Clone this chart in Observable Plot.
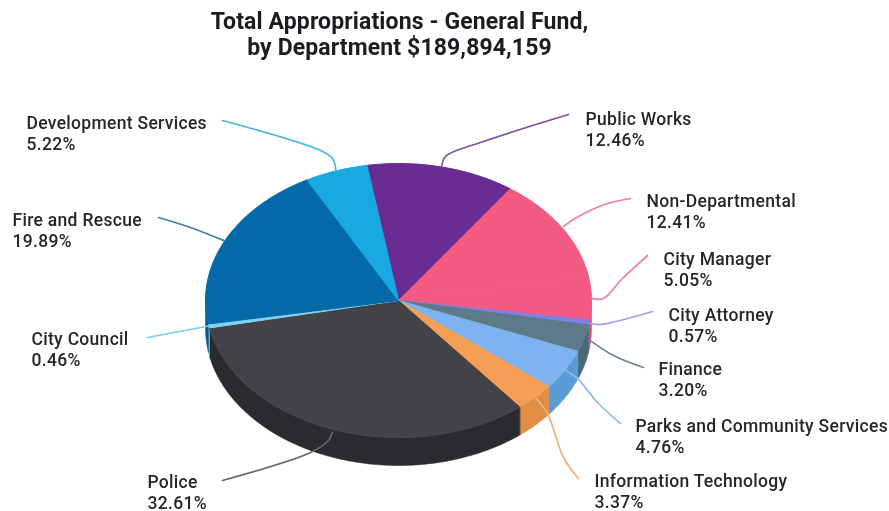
<!DOCTYPE html>
<html>
<head>
<meta charset="utf-8">
<script src="https://cdn.jsdelivr.net/npm/d3@7"></script>
<script src="https://cdn.jsdelivr.net/npm/@observablehq/plot@0.6"></script>
<style>
  html, body { margin: 0; padding: 0; background: #fff; }
  #title { height: 64px; box-sizing: border-box; padding-top: 9px; width: 799px; text-align: center;
           font: 700 23px/26px Roboto, sans-serif; letter-spacing: 0.12px; color: #1c1c22; }
  svg { display: block; }
  svg text { letter-spacing: 0.3px; }
  #page { width: 889px; height: 511px; overflow: hidden; filter: blur(0.35px); }
</style>
</head>
<body>
<div id="page">
<div id="title">Total Appropriations - General Fund,<br>by Department $189,894,159</div>
<div id="chart"></div>
</div>
<script>
// ---- data, clockwise from the top of the pie ----
const departments = ["Public Works", "Non-Departmental", "City Manager", "City Attorney", "Finance",
  "Parks and Community Services", "Information Technology", "Police", "City Council", "Fire and Rescue", "Development Services"];
const shares = [12.46, 12.41, 5.05, 0.57, 3.20, 4.76, 3.37, 32.61, 0.46, 19.89, 5.22];

// ---- styles ----
const topColors = ["#692a91", "#f45b83", "#f45b83", "#7f7fe6", "#5c7a87", "#7db4ef", "#f49f55", "#434247", "#7fd3f2", "#0469a9", "#19a9e1"];
const sideColors = ["#692a91", "#f45b83", "#d94a70", "#6a6ac8", "#4a6a78", "#5b9bd6", "#e08f42", "#2b2a2f", "#6cc4e4", "#04588e", "#19a9e1"];
const leaderColors = ["#7c4fa3", "#f0809f", "#f0809f", "#a39cf0", "#70868f", "#93bbec", "#f1b17c", "#66666a", "#72d0f0", "#3f80aa", "#4cb5dc"];

// ---- layout ----
const cx = 398, cy = 300, rx = 193, ry = 137, depth = 28;
const startDeg = -9.5;
const labelAt = [[585,118],[646,200],[663,258],[668,314],[658,368],[635,425],[594,480],[147,481],[31,338],[12,219],[26,122]];
// bends and end of each leader, after its start on the slice
const leaderBends = [
  [[445,156],[480,142],[568,114]],
  [[578,216],[604,204],[630,198]],
  [[603,298],[621,279],[647,255]],
  [[600,324],[652,311]],
  [[613,355],[643,367]],
  [[577,378],[597,402],[620,423]],
  [[547,413],[563,457],[578,478]],
  [[328,440],[310,452],[222,480]],
  [[147,337]],
  [[190,227],[158,217]],
  [[332,158],[320,150],[222,120]]
];
const leaderStartShift = [[0,0],[2,-1],[0,0],[1,1],[6,2],[1,1],[1,1],[-1,3],[0,0],[-1,0],[0,0]];

const rad = Math.PI / 180;
const onRim = (deg, drop = 0) => [cx + rx * Math.sin(deg * rad), cy + drop - ry * Math.cos(deg * rad)];

const arcs = d3.pie().sort(null).startAngle(startDeg * rad).endAngle((startDeg + 360) * rad)(shares);
const sampled = (a, b) => {
  const n = Math.max(2, Math.ceil(b - a));
  return d3.range(n + 1).map(i => a + (b - a) * i / n);
};

const topPoints = [], sidePoints = [], leaderPoints = [], labels = [];
arcs.forEach((arc, i) => {
  const a = arc.startAngle / rad, b = arc.endAngle / rad, mid = (a + b) / 2;
  const name = departments[i];
  const push = (store, [x, y]) => store.push({name, x, y, i});
  push(topPoints, [cx, cy]);
  sampled(a, b).forEach(d => push(topPoints, onRim(d)));
  const s0 = Math.max(a, 90), s1 = Math.min(b, 270);
  if (s1 > s0) {
    const degs = sampled(s0, s1);
    degs.forEach(d => push(sidePoints, onRim(d)));
    degs.slice().reverse().forEach(d => push(sidePoints, onRim(d, depth)));
  }
  const [sx, sy] = onRim(mid);
  push(leaderPoints, [sx + leaderStartShift[i][0], sy + leaderStartShift[i][1]]);
  leaderBends[i].forEach(p => push(leaderPoints, p));
  labels.push({name, x: labelAt[i][0], y: labelAt[i][1], text: `${name}\n${shares[i].toFixed(2)}%`});
});

const chart = Plot.plot({
  width: 889, height: 447,
  margin: 0,
  x: {domain: [0, 889], range: [0, 889], axis: null},
  y: {domain: [64, 511], range: [0, 447], axis: null},
  color: {type: "identity"},
  marks: [
    Plot.line(sidePoints, {x: "x", y: "y", z: "name", curve: "linear-closed",
      fill: d => sideColors[d.i], stroke: d => sideColors[d.i], strokeWidth: 0.5}),
    Plot.line(topPoints, {x: "x", y: "y", z: "name", curve: "linear-closed",
      fill: d => topColors[d.i], stroke: d => topColors[d.i], strokeWidth: 1}),
    Plot.line(leaderPoints, {x: "x", y: "y", z: "name", curve: "catmull-rom",
      stroke: d => leaderColors[d.i], strokeWidth: 1.7}),
    Plot.text(labels, {x: "x", y: "y", text: "text", textAnchor: "start", lineAnchor: "middle", dy: 10.5,
      lineHeight: 1.2, fontSize: 17.5, fontWeight: 500, fontFamily: "Roboto, sans-serif", fill: "#26262c"})
  ]
});
document.getElementById("chart").append(chart);
</script>
</body>
</html>
